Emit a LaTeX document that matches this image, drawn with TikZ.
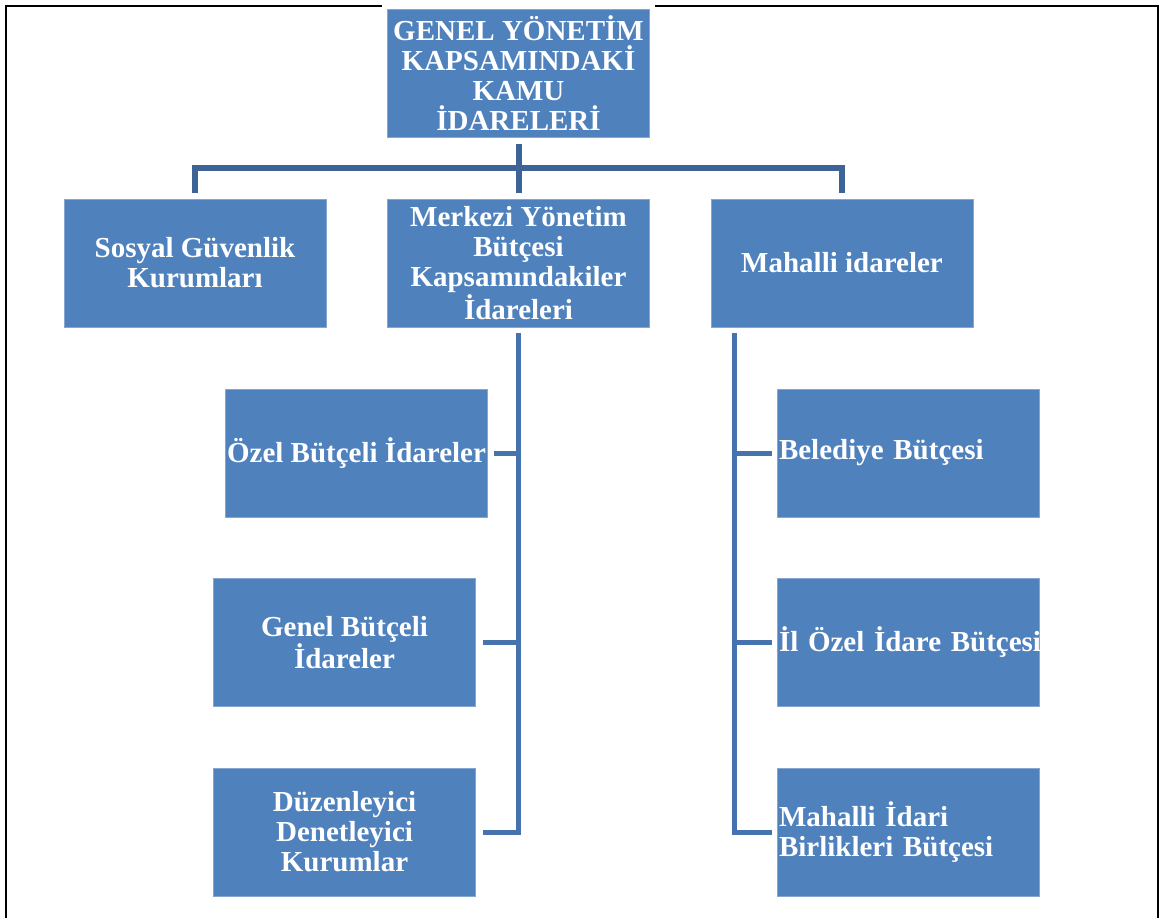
\documentclass[tikz,border=0pt]{standalone}
\usepackage{fontspec}
\setmainfont{Liberation Serif}
\definecolor{boxblue}{HTML}{4F81BD}
\definecolor{boxedge}{HTML}{86A6D2}
\definecolor{linkdark}{HTML}{3E6497}
\definecolor{linkblue}{HTML}{4673AE}

\begin{document}
\begin{tikzpicture}[x=0.5pt,y=-0.5pt,
  orgbox/.style={fill=boxblue, draw=boxedge, line width=0.4pt, text=white,
    font=\bfseries\fontsize{14.5pt}{15pt}\selectfont, inner sep=0pt,
    minimum width=131pt, minimum height=64pt, align=center},
  leftbox/.style={orgbox, align=left, text width=129pt},
  toplink/.style={draw=linkdark, line width=3pt, shorten <=3pt, shorten >=3pt},
  sublink/.style={draw=linkblue, line width=2.5pt},
  frameline/.style={draw=black, line width=1.4pt}]

\useasboundingbox (0,0) rectangle (1160,918);

% outer frame (open at the bottom, broken behind the head box)
\draw[frameline] (6,918) -- (6,6) -- (382,6);
\draw[frameline] (655,6) -- (1158,6) -- (1158,918);

% head and first level
\node[orgbox] (top) at (518.5,73.5) {GENEL YÖNETİM\\KAPSAMINDAKİ\\KAMU\\İDARELERİ};
\node[orgbox] (sos) at (195,263) {Sosyal Güvenlik\\Kurumları};
\node[orgbox] (mer) at (518.5,263) {Merkezi Yönetim\\Bütçesi\\Kapsamındakiler\\İdareleri};
\node[orgbox] (mah) at (842,263) {Mahalli idareler};

% central government branch
\node[orgbox] (ozel) at (356.5,453) {Özel Bütçeli İdareler};
\node[orgbox] (genel) at (344.5,642.5) {Genel Bütçeli\\İdareler};
\node[orgbox] (duz) at (344.5,832) {Düzenleyici\\Denetleyici\\Kurumlar};

% local administrations branch
\node[leftbox] (bel) at (908,453) {Belediye Bütçesi};
\node[leftbox] (ilo) at (908,642.5) {\mbox{İl Özel İdare Bütçesi}};
\node[leftbox] (mib) at (908,832) {Mahalli İdari\\Birlikleri Bütçesi};

% head to first level
\draw[toplink] (top.south) -- (mer.north);
\draw[toplink] (sos.north) -- ++(0,-31) -| (mah.north);

% central government trunk and branches
\draw[sublink, shorten <=3pt, shorten >=3.5pt] (mer.south) |- (duz.east);
\draw[sublink, shorten >=3pt] (mer.south |- ozel.east) -- (ozel.east);
\draw[sublink, shorten >=3.5pt] (mer.south |- genel.east) -- (genel.east);

% local administrations trunk and branches
\coordinate (rtrunk) at ([xshift=12pt]mah.south west);
\draw[sublink, shorten <=3pt, shorten >=2.5pt] (rtrunk) |- (mib.west);
\draw[sublink, shorten >=2.5pt] (rtrunk |- bel.west) -- (bel.west);
\draw[sublink, shorten >=2.5pt] (rtrunk |- ilo.west) -- (ilo.west);

\end{tikzpicture}
\end{document}
